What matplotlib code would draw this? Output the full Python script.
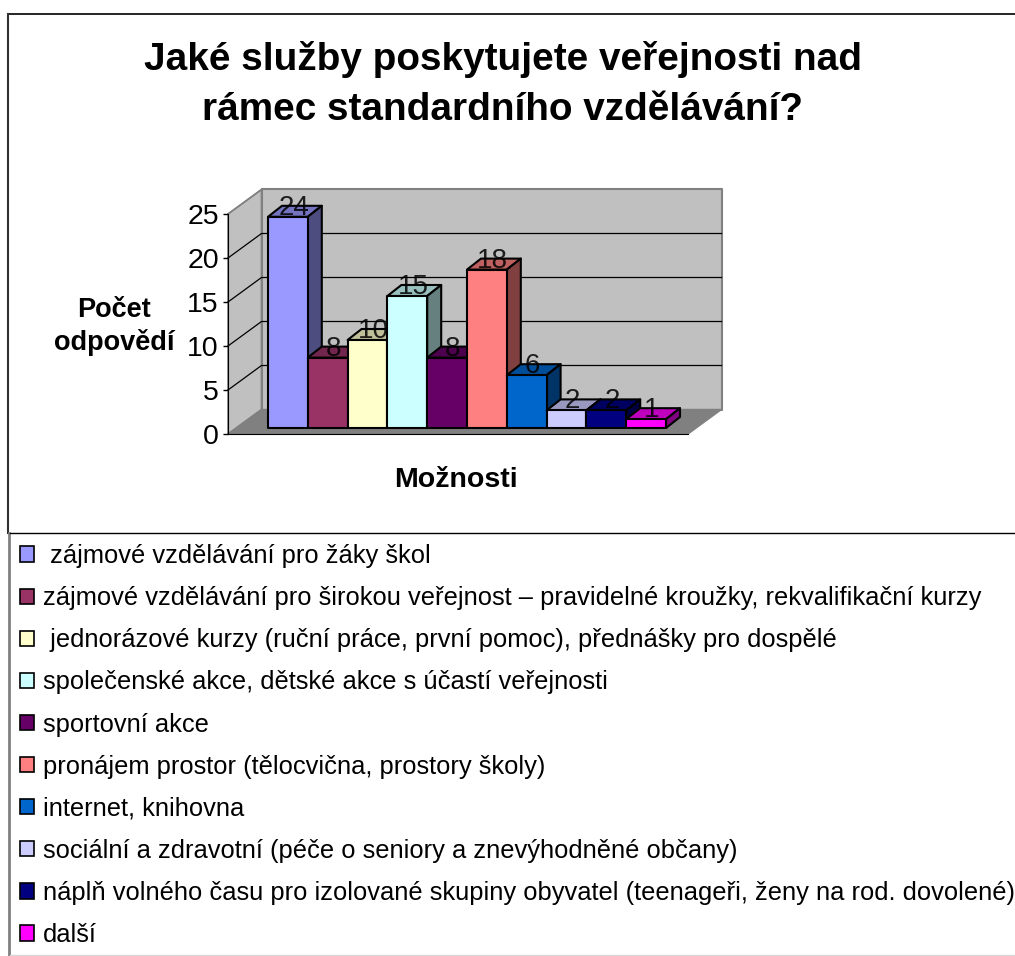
import matplotlib
matplotlib.use("Agg")
import matplotlib.pyplot as plt
from matplotlib.lines import Line2D
from matplotlib.patches import Patch, Polygon
from matplotlib.colors import to_rgb

plt.rcParams['font.family'] = ['Liberation Sans', 'DejaVu Sans']

W, H = 1015, 956

categories = [
    " zájmové vzdělávání pro žáky škol",
    "zájmové vzdělávání pro širokou veřejnost – pravidelné kroužky, rekvalifikační kurzy",
    " jednorázové kurzy (ruční práce, první pomoc), přednášky pro dospělé",
    "společenské akce, dětské akce s účastí veřejnosti",
    "sportovní akce",
    "pronájem prostor (tělocvična, prostory školy)",
    "internet, knihovna",
    "sociální a zdravotní (péče o seniory a znevýhodněné občany)",
    "náplň volného času pro izolované skupiny obyvatel (teenageři, ženy na rod. dovolené)",
    "další",
]
values = [24, 8, 10, 15, 8, 18, 6, 2, 2, 1]
colors = ["#9999FF", "#993366", "#FFFFCC", "#CCFFFF", "#660066",
          "#FF8080", "#0066CC", "#CCCCFF", "#000080", "#FF00FF"]
y_ticks = [0, 5, 10, 15, 20, 25]


def shade(color, factor):
    return tuple(c * factor for c in to_rgb(color))


def fx(px):
    return px / W


def fy(px):
    return 1 - px / H


fig = plt.figure(figsize=(W / 100, H / 100), dpi=100, facecolor="white")
ax = fig.add_axes([fx(228), fy(434), fx(688) - fx(228), fy(214) - fy(434)])
ax.patch.set_visible(False)

unit_x = 39.8  # pixels per bar
unit_y = 8.8   # pixels per value
x_min = -40 / unit_x
x_max = (688 - 268) / unit_x
ax.set_xlim(x_min, x_max)
ax.set_ylim(0, 25)

# depth of the fake 3D box and of the bars, in data units
wall_dx, wall_dy = 33.5 / unit_x, 24.5 / unit_y
bar_dx, bar_dy = 14 / unit_x, 11 / unit_y
base = 6 / unit_y


def add_poly(points, face, edge="black", lw=1.5, z=1):
    ax.add_patch(Polygon(points, closed=True, facecolor=face, edgecolor=edge,
                         linewidth=lw, clip_on=False, zorder=z, joinstyle="round"))


top = y_ticks[-1]
# walls and floor
add_poly([(x_min, 0), (x_min, top), (x_min + wall_dx, top + wall_dy), (x_min + wall_dx, wall_dy)],
         "#C0C0C0", "#808080", 1.2, 1)
add_poly([(x_min + wall_dx, wall_dy), (x_min + wall_dx, top + wall_dy),
          (x_max + wall_dx, top + wall_dy), (x_max + wall_dx, wall_dy)],
         "#C0C0C0", "#808080", 1.5, 1)
add_poly([(x_min, 0), (x_max, 0), (x_max + wall_dx, wall_dy), (x_min + wall_dx, wall_dy)],
         "#808080", "#808080", 1, 1.1)

# gridlines run over the side wall and across the back wall
for t in y_ticks[1:-1]:
    ax.plot([x_min, x_min + wall_dx, x_max + wall_dx], [t, t + wall_dy, t + wall_dy],
            color="black", lw=0.9, clip_on=False, zorder=1.2)
ax.plot([x_min, x_min + wall_dx], [top, top + wall_dy], color="#808080", lw=1,
        clip_on=False, zorder=1.2)

# bars, left to right so each one covers the side of the previous one
for i, (val, col) in enumerate(zip(values, colors)):
    z = 2 + i * 0.01
    y0, y1 = base, base + val
    add_poly([(i, y1), (i + bar_dx, y1 + bar_dy), (i + 1 + bar_dx, y1 + bar_dy), (i + 1, y1)],
             shade(col, 0.75), z=z)
    add_poly([(i + 1, y0), (i + 1, y1), (i + 1 + bar_dx, y1 + bar_dy), (i + 1 + bar_dx, y0 + bar_dy)],
             shade(col, 0.5), z=z)
    add_poly([(i, y0), (i, y1), (i + 1, y1), (i + 1, y0)], col, z=z)

for i, val in enumerate(values):
    ax.text(i + 0.47 + bar_dx / 2, base + val + bar_dy / 2 + 0.4, str(val), ha="center", va="center",
            fontsize=20, color="black", alpha=0.85, zorder=3, clip_on=False)

ax.set_xticks([])
ax.set_yticks(y_ticks)
ax.tick_params(axis="y", length=3.5, width=1, labelsize=20.5, pad=3)
for side in ["top", "right"]:
    ax.spines[side].set_visible(False)
ax.spines["left"].set_zorder(1.5)
ax.spines["bottom"].set_zorder(1.5)

# titles
fig.text(fx(503), fy(84.5), "Jaké služby poskytujete veřejnosti nad\nrámec standardního vzdělávání?",
         ha="center", va="center", fontsize=27.9, fontweight="bold", linespacing=1.47)
fig.text(fx(114), fy(326.5), "Počet\nodpovědí", ha="center", va="center",
         fontsize=19.5, fontweight="bold", linespacing=1.27)
fig.text(fx(456), fy(480), "Možnosti", ha="center", va="center", fontsize=20.5, fontweight="bold")

# frame lines around chart and legend
fig.add_artist(Line2D([fx(8), 1], [fy(14), fy(14)], color="black", lw=1.2))
fig.add_artist(Line2D([fx(8), fx(8)], [fy(14), fy(533)], color="#303030", lw=1.5))
fig.add_artist(Line2D([fx(9), fx(9)], [fy(533), fy(956)], color="#808080", lw=2))
fig.add_artist(Line2D([fx(10), 1], [fy(533), fy(533)], color="black", lw=1))
fig.add_artist(Line2D([fx(10), 1], [fy(955), fy(955)], color="#D8D8D8", lw=1))

handles = [Patch(facecolor=c, edgecolor="black", linewidth=1.2) for c in colors]
fig.legend(handles, categories, loc="upper left", bbox_to_anchor=(fx(12), fy(536.5)),
           bbox_transform=fig.transFigure, frameon=False, fontsize=18.4,
           handlelength=0.55, handleheight=0.55, handletextpad=0.36,
           labelspacing=0.708, borderaxespad=0, borderpad=0.3)

fig.savefig("out.png", dpi=100, facecolor="white")
